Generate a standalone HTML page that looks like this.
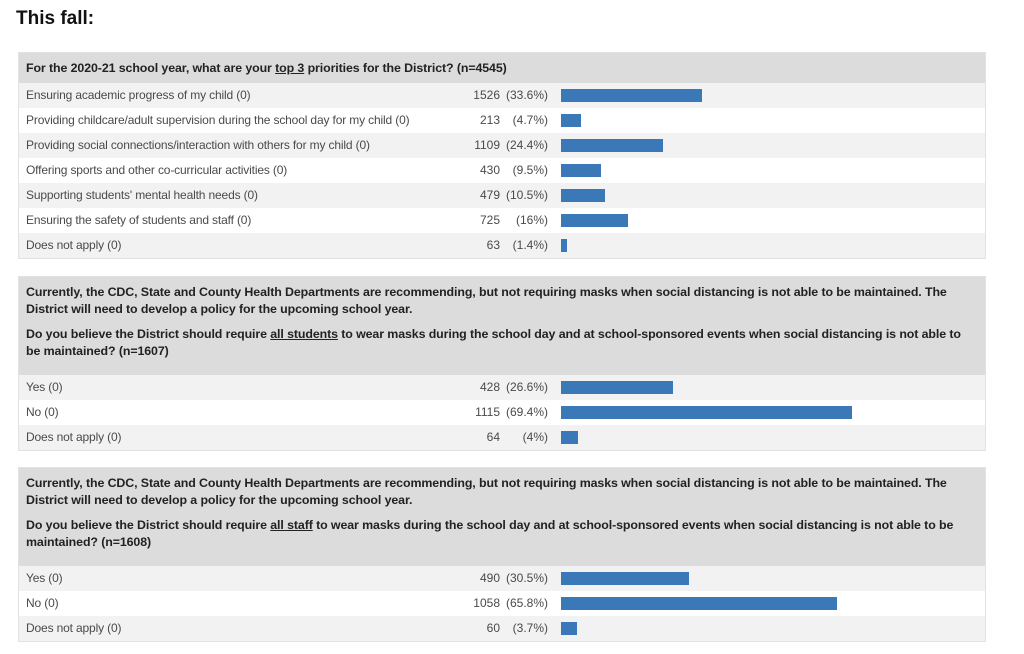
<!DOCTYPE html>
<html><head><meta charset="utf-8"><style>
body{margin:0;width:1024px;height:654px;background:#fff;font-family:"Liberation Sans",sans-serif;position:relative;overflow:hidden}
.title{position:absolute;left:16px;top:8px;font-size:19px;font-weight:bold;color:#111}
.panel{position:absolute;left:18px;width:968px;border:1px solid #e2e2e2;box-sizing:border-box}
.hdr{background:#dcdcdc;font-size:12.4px;font-weight:bold;color:#222;padding:0 7px;box-sizing:border-box;line-height:17px;letter-spacing:-0.1px}
.row{height:25px;position:relative;font-size:12px;color:#4a4a4a;line-height:25px}
.lab{position:absolute;left:7px;letter-spacing:-0.15px}
.num{position:absolute;left:420px;width:61px;text-align:right}
.pct{position:absolute;left:478px;width:51px;text-align:right}
.bar{position:absolute;left:542px;top:6px;height:13px;background:#3b78b8}
u{text-decoration:underline}
</style></head><body>
<div class="title">This fall:</div>

<div class="panel" style="top:52px">
<div class="hdr" style="height:30px;line-height:30px">For the 2020-21 school year, what are your <u>top 3</u> priorities for the District? (n=4545)</div>
<div id="p1"></div></div>

<div class="panel" style="top:276px">
<div class="hdr" style="height:98px;padding-top:7px">Currently, the CDC, State and County Health Departments are recommending, but not requiring masks when social distancing is not able to be maintained. The District will need to develop a policy for the upcoming school year.<div style="height:8px"></div>Do you believe the District should require <u>all students</u> to wear masks during the school day and at school-sponsored events when social distancing is not able to be maintained? (n=1607)</div>
<div id="p2"></div></div>

<div class="panel" style="top:467px">
<div class="hdr" style="height:98px;padding-top:7px">Currently, the CDC, State and County Health Departments are recommending, but not requiring masks when social distancing is not able to be maintained. The District will need to develop a policy for the upcoming school year.<div style="height:8px"></div>Do you believe the District should require <u>all staff</u> to wear masks during the school day and at school-sponsored events when social distancing is not able to be maintained? (n=1608)</div>
<div id="p3"></div></div>

<script>
const labels1=["Ensuring academic progress of my child (0)","Providing childcare/adult supervision during the school day for my child (0)","Providing social connections/interaction with others for my child (0)","Offering sports and other co-curricular activities (0)","Supporting students' mental health needs (0)","Ensuring the safety of students and staff (0)","Does not apply (0)"];
const counts1=[1526,213,1109,430,479,725,63];
const pcts1=[33.6,4.7,24.4,9.5,10.5,16,1.4];
const labels2=["Yes (0)","No (0)","Does not apply (0)"];
const counts2=[428,1115,64];
const pcts2=[26.6,69.4,4];
const labels3=["Yes (0)","No (0)","Does not apply (0)"];
const counts3=[490,1058,60];
const pcts3=[30.5,65.8,3.7];
const pxPerPct=4.2;
function x(p){return p*pxPerPct;}
function build(id,labels,counts,pcts){
  const c=document.getElementById(id);
  labels.forEach((l,i)=>{
    const r=document.createElement('div');r.className='row';
    
    
    r.style.background=i%2===0?'#f2f2f2':'#fff';
    const a=document.createElement('span');a.className='lab';a.textContent=l;
    
    
    const n=document.createElement('span');n.className='num';n.textContent=counts[i];
    
    
    const p=document.createElement('span');p.className='pct';p.textContent='('+pcts[i]+'%)';
    
    
    const b=document.createElement('div');b.className='bar';b.style.width=Math.max(3,x(pcts[i]))+'px';
    
    
    r.append(a,n,p,b);c.appendChild(r);
  });
}
build('p1',labels1,counts1,pcts1);
build('p2',labels2,counts2,pcts2);
build('p3',labels3,counts3,pcts3);
</script>
</body></html>
